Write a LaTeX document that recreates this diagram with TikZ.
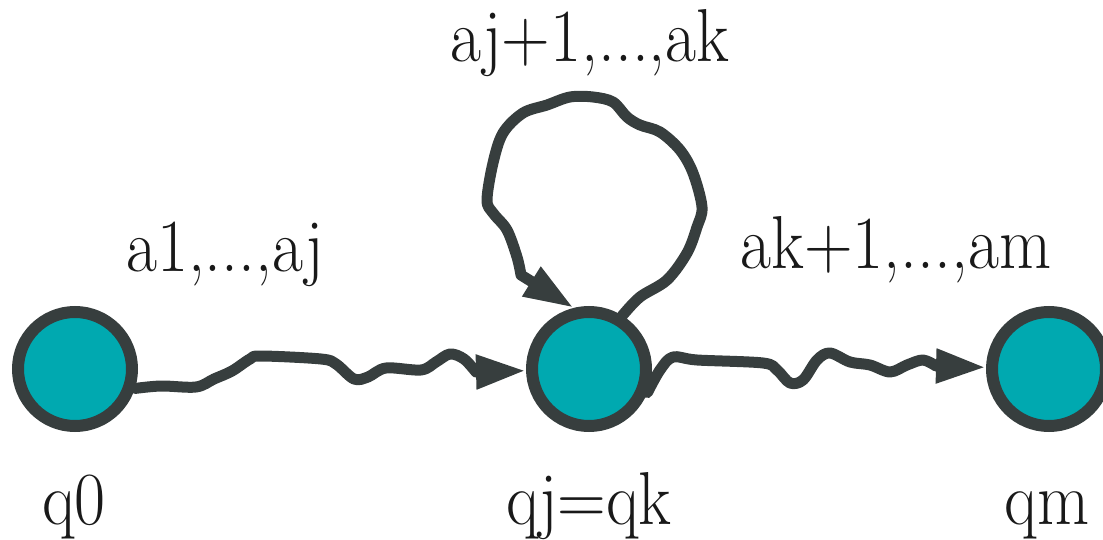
\documentclass[tikz,border=0pt]{standalone}
\usetikzlibrary{arrows.meta}
\definecolor{stateFill}{RGB}{0,169,176}
\definecolor{inkGray}{RGB}{55,62,62}
\newcommand{\lbltext}[1]{\scalebox{0.9}[1]{#1}}
\tikzset{
  state/.style={circle, draw=inkGray, fill=stateFill, line width=12pt, minimum size=114pt, inner sep=0pt},
  lbl/.style={anchor=base, inner sep=0pt, font=\fontsize{75}{90}\selectfont, text=black!90},
  wig/.style={draw=inkGray, line width=11pt, line join=round, line cap=round},
  tipA/.style={-{Stealth[length=50pt, width=32pt, inset=0pt]}}
}
\begin{document}
\begin{tikzpicture}[x=1pt, y=-1pt]
\useasboundingbox (0,0) rectangle (1103,540);
\node[state] (q0) at (75,369) {};
\node[state] (qj) at (589,369) {};
\node[state] (qm) at (1049,369) {};

\node[lbl] (l0) at (74,524) {\lbltext{q0}};
\node[lbl] (lj) at (589,524) {\lbltext{qj=qk}};
\node[lbl] (lm) at (1047,524) {\lbltext{qm}};
\node[lbl] (e1) at (225,272) {\lbltext{a1,...,aj}};
\node[lbl] (e2) at (590,62) {\lbltext{aj+1,...,ak}};
\node[lbl] (e3) at (896,268) {\lbltext{ak+1,...,am}};

\draw[wig, tipA] plot[smooth, tension=0.55] coordinates {
  (q0.-18) (161,386) (196,387) (214,379) (232,371) (250,359) (261,356)
  (321,359) (336,364) (354,379) (368,377) (386,368) (421,370) (436,362)
  (450,354) (464,359) (476,372)} -- (qj);

\draw[wig, tipA] plot[smooth, tension=0.55] coordinates {
  (qj.-22) (660,370) (673,357) (697,360) (763,363) (777,370) (790,383)
  (803,380) (817,360) (830,353) (850,362) (870,365) (890,372) (907,365)
  (923,360) (936,366)} -- (qm);

\draw[wig, tipA] plot[smooth, tension=0.55] coordinates {
  (qj.58) (640,297) (667,280) (687,253) (697,227) (702,207) (693,173)
  (680,150) (660,132) (640,125) (627,117) (613,102) (593,97) (570,97)
  (547,105) (523,113) (503,133) (493,163) (487,200) (493,213) (507,230)
  (517,257) (521,275)} -- (qj.104);
\end{tikzpicture}
\end{document}
